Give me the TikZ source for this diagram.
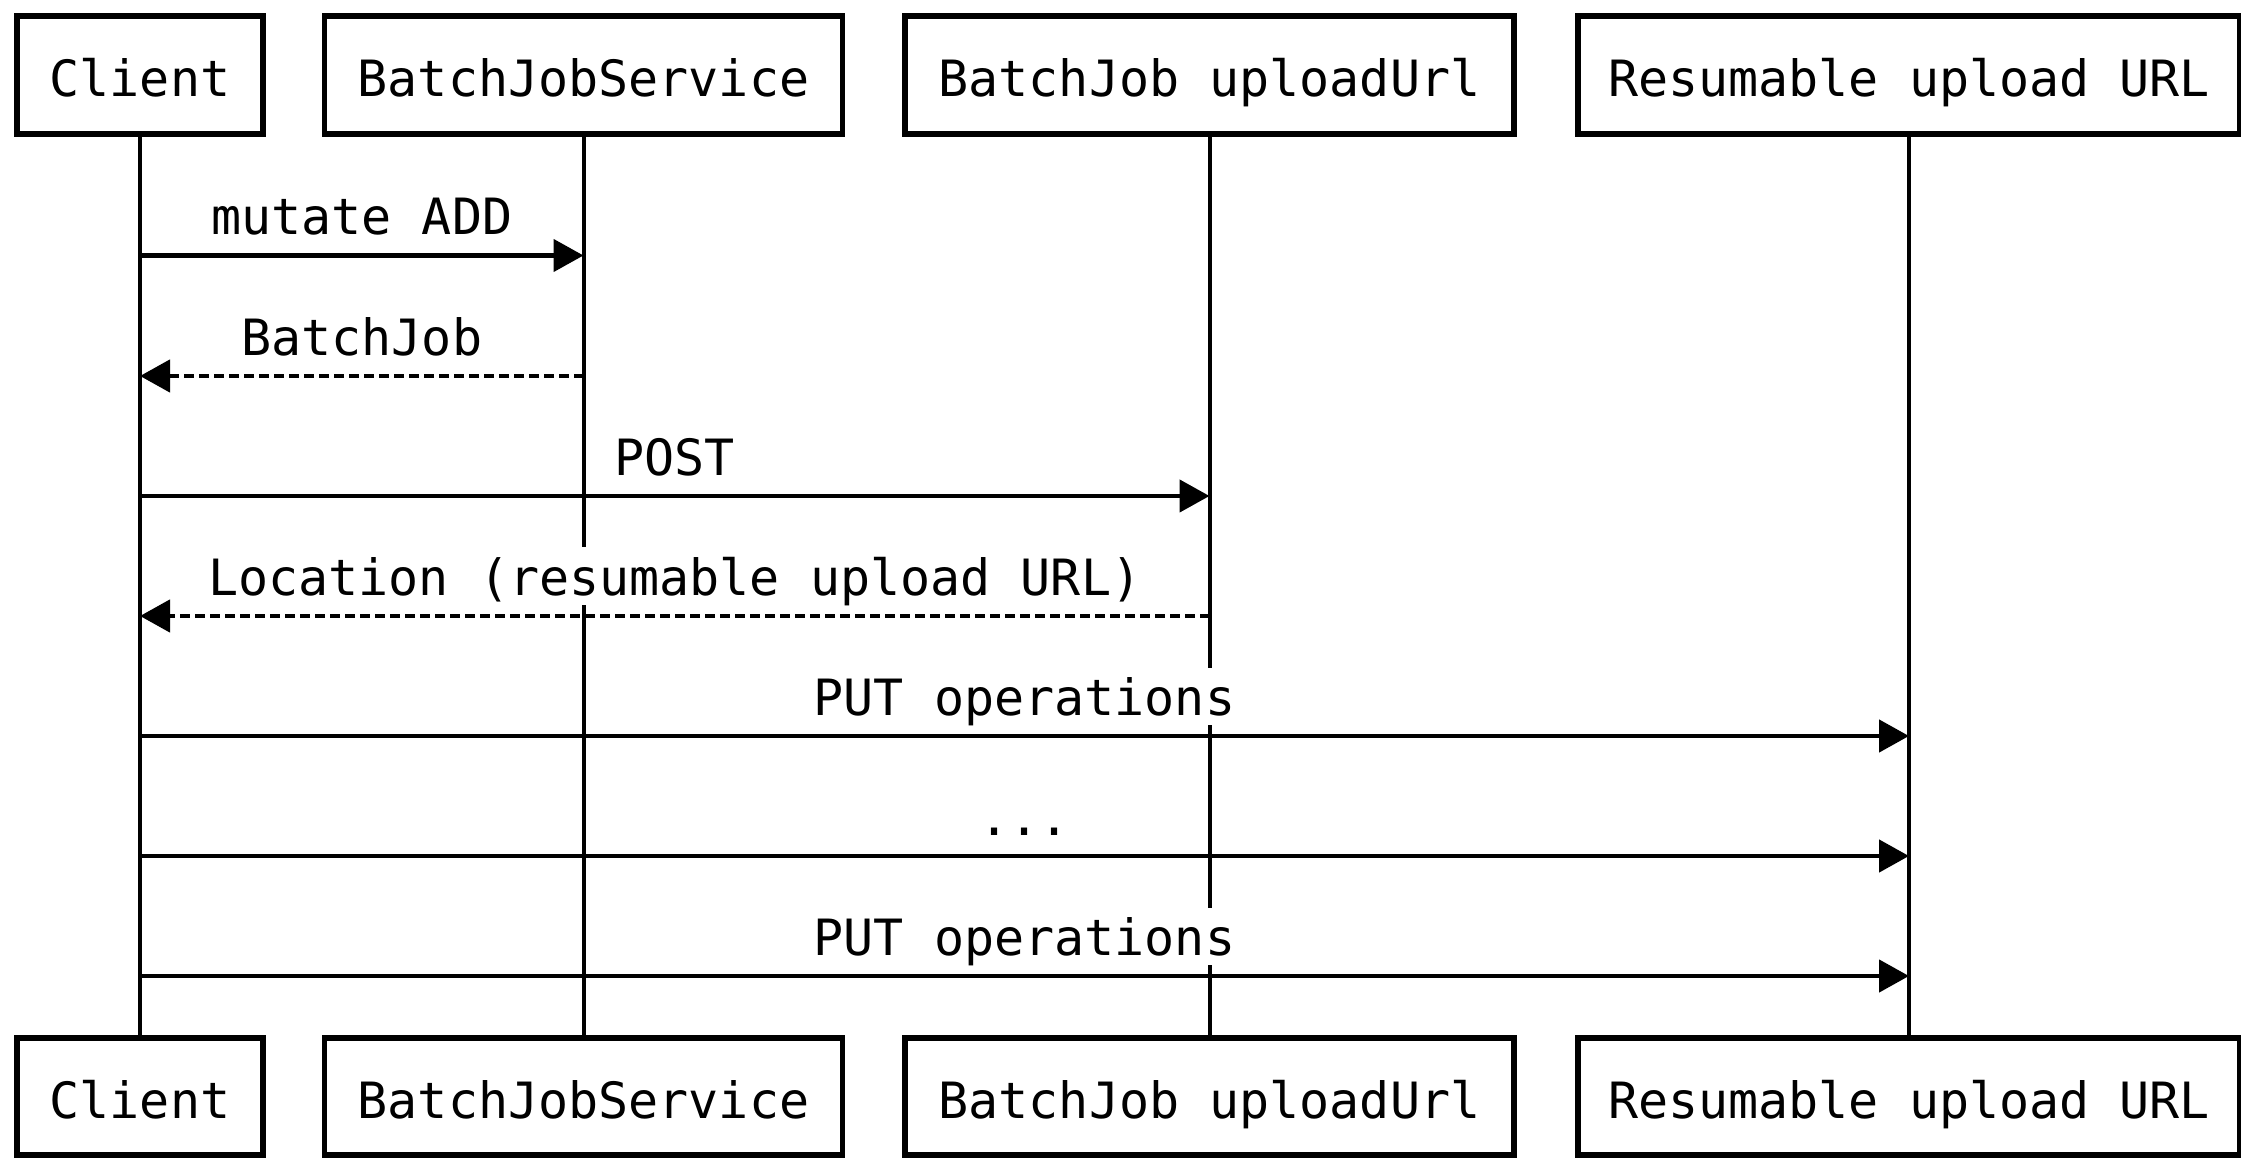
\documentclass[tikz,border=0pt]{standalone}
\usepackage{fontspec}
\newfontfamily\monof{DejaVu Sans Mono}
\usetikzlibrary{arrows.meta,calc}
\begin{document}
\begin{tikzpicture}[x=0.5pt,y=-0.5pt,
  actor/.style={draw,line width=2.6pt,fill=white,minimum height=59pt,inner sep=0pt,
    font=\monof\fontsize{25}{30}\selectfont,text height=26pt,text depth=4pt},
  life/.style={line width=2pt},
  msg/.style={line width=2.3pt,-{Triangle[length=15pt,width=16pt]}},
  reply/.style={msg,dash pattern=on 5pt off 2.5pt},
  lbl/.style={fill=white,inner xsep=1.5pt,inner ysep=0pt,anchor=base,yshift=10.25pt,
    font=\monof\fontsize{25}{30}\selectfont,text height=24pt,text depth=4.75pt}]
\useasboundingbox (0,0) rectangle (2241,1159);
% top actors
\node[actor,minimum width=123pt] (cT) at (140,75) {Client};
\node[actor,minimum width=259pt] (sT) at (583.5,75) {BatchJobService};
\node[actor,minimum width=304.5pt] (uT) at (1209.5,75) {BatchJob uploadUrl};
\node[actor,minimum width=331pt] (rT) at (1909,75) {Resumable upload URL};
% bottom actors
\node[actor,minimum width=123pt,minimum height=58.5pt] (cB) at (140,1096.5) {Client};
\node[actor,minimum width=259pt,minimum height=58.5pt] (sB) at (583.5,1096.5) {BatchJobService};
\node[actor,minimum width=304.5pt,minimum height=58.5pt] (uB) at (1209.5,1096.5) {BatchJob uploadUrl};
\node[actor,minimum width=331pt,minimum height=58.5pt] (rB) at (1909,1096.5) {Resumable upload URL};
% lifelines
\draw[life] (cT.south) -- (cB.north);
\draw[life] (sT.south) -- (sB.north);
\draw[life] (uT.south) -- (uB.north);
\draw[life] (rT.south) -- (rB.north);
% message rows
\coordinate (r1) at (0,255.5);
\coordinate (r2) at (0,376);
\coordinate (r3) at (0,496);
\coordinate (r4) at (0,616);
\coordinate (r5) at (0,736);
\coordinate (r6) at (0,856);
\coordinate (r7) at (0,976);
% labels
\node[lbl] (l1) at ($(cT |- r1)!0.5!(sT |- r1)$) {mutate ADD};
\node[lbl] (l2) at ($(cT |- r2)!0.5!(sT |- r2)$) {BatchJob};
\node[lbl] (l3) at ($(cT |- r3)!0.5!(uT |- r3)$) {POST};
\node[lbl] (l4) at ($(cT |- r4)!0.5!(uT |- r4)$) {Location (resumable upload URL)};
\node[lbl] (l5) at ($(cT |- r5)!0.5!(rT |- r5)$) {PUT operations};
\node[lbl] (l6) at ($(cT |- r6)!0.5!(rT |- r6)$) {...};
\node[lbl] (l7) at ($(cT |- r7)!0.5!(rT |- r7)$) {PUT operations};
% messages
\draw[msg] (cT |- r1) -- (sT |- r1);
\draw[reply] (sT |- r2) -- (cT |- r2);
\draw[msg] (cT |- r3) -- (uT |- r3);
\draw[reply] (uT |- r4) -- (cT |- r4);
\draw[msg] (cT |- r5) -- (rT |- r5);
\draw[msg] (cT |- r6) -- (rT |- r6);
\draw[msg] (cT |- r7) -- (rT |- r7);
\end{tikzpicture}
\end{document}
